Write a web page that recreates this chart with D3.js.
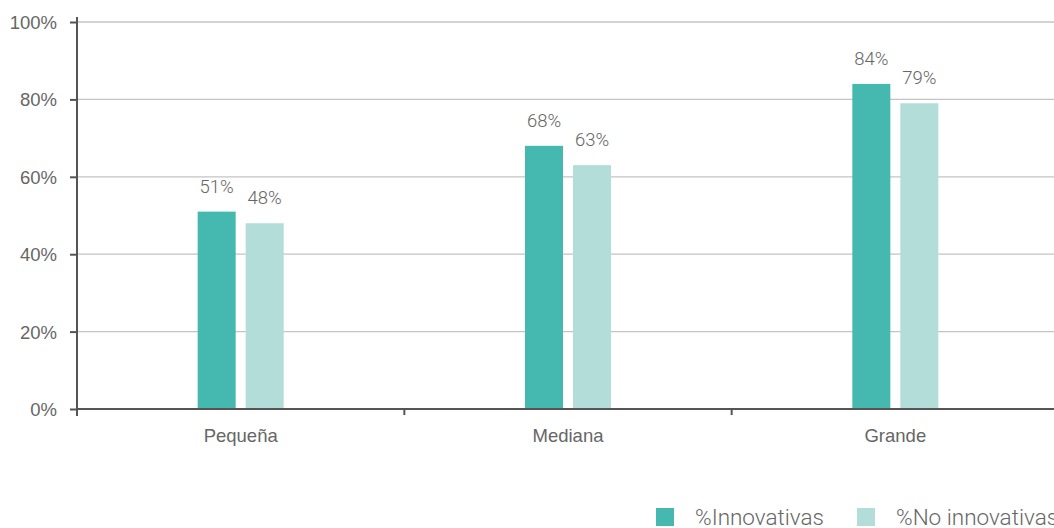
<!DOCTYPE html>
<html>
<head>
<meta charset="utf-8">
<script src="https://cdn.jsdelivr.net/npm/d3@7/dist/d3.min.js"></script>
<style>
  html, body { margin: 0; padding: 0; background: #fff; }
  svg { display: block; font-family: Roboto, "Noto Sans", sans-serif; font-weight: 300; }
  .axis path, .axis line { stroke: #555; stroke-width: 2; }
  .axis text { fill: #666; font-size: 18.5px; }
  .grid line { stroke: #c4c4c4; stroke-width: 1.3; }
</style>
</head>
<body>
<svg id="chart" width="1054" height="528"></svg>
<script>
// Company size groups and share of firms in each group
const categories = ["Pequeña", "Mediana", "Grande"];
const series = ["%Innovativas", "%No innovativas"];
const innovativas = [51, 68, 84];
const noInnovativas = [48, 63, 79];
const yTicks = [0, 20, 40, 60, 80, 100];
const colors = ["#45b8b0", "#b3ddd8"];

const rows = categories.map((c, i) => ({
  category: c,
  values: [innovativas[i], noInnovativas[i]]
}));

const svg = d3.select("#chart");
const plotLeft = 77, plotRight = 1059, plotTop = 22, plotBottom = 409;

const x = d3.scaleBand().domain(categories).range([plotLeft, plotRight]).padding(0);
const x1 = d3.scaleBand().domain(series).range([-43, 43]).paddingInner(10 / 48).paddingOuter(0);
const y = d3.scaleLinear().domain([0, 100]).range([plotBottom, plotTop]);

// Horizontal gridlines
svg.append("g").attr("class", "grid")
  .selectAll("line").data(yTicks.filter(d => d > 0)).join("line")
  .attr("x1", plotLeft).attr("x2", 1054)
  .attr("y1", d => y(d)).attr("y2", d => y(d));

// Bars
const groups = svg.append("g").selectAll("g").data(rows).join("g")
  .attr("transform", d => `translate(${x(d.category) + x.bandwidth() / 2},0)`);

groups.selectAll("rect").data(d => d.values.map((v, i) => ({ s: series[i], v, i }))).join("rect")
  .attr("x", d => x1(d.s))
  .attr("width", x1.bandwidth())
  .attr("y", d => y(d.v))
  .attr("height", d => y(0) - y(d.v))
  .attr("fill", d => colors[d.i]);

groups.selectAll("text").data(d => d.values.map((v, i) => ({ s: series[i], v, i }))).join("text")
  .attr("x", d => x1(d.s) + x1.bandwidth() / 2)
  .attr("y", d => y(d.v) - 19)
  .attr("text-anchor", "middle")
  .attr("fill", "#666")
  .style("font-size", "18.5px")
  .text(d => d.v + "%");

// Y axis
const yAxis = svg.append("g").attr("class", "axis")
  .attr("transform", `translate(${plotLeft},0)`)
  .call(d3.axisLeft(y).tickValues(yTicks).tickFormat(d => d + "%").tickSize(7).tickSizeOuter(0).tickPadding(13));
yAxis.select(".domain").attr("d", `M0,${plotTop - 5}V${plotBottom + 7}`);
yAxis.selectAll(".tick text").attr("dy", "0.35em");

// X axis: labels centred on each band, ticks at band boundaries
const xAxis = svg.append("g").attr("class", "axis")
  .attr("transform", `translate(0,${plotBottom})`)
  .call(d3.axisBottom(x).tickSize(0).tickPadding(20));
xAxis.select(".domain").attr("d", `M${plotLeft},0H1054`);
xAxis.selectAll(".bound").data(categories.map(c => x(c) + x.bandwidth()).concat([plotLeft])).join("line")
  .attr("class", "bound")
  .attr("x1", d => d).attr("x2", d => d)
  .attr("y1", 0).attr("y2", 6);

// Legend
const legend = svg.append("g").selectAll("g").data(series).join("g")
  .attr("transform", (d, i) => `translate(${[656, 857][i]},508)`);
legend.append("rect").attr("width", 18).attr("height", 18).attr("fill", (d, i) => colors[i]);
legend.append("text").attr("x", 39).attr("y", 17)
  .attr("fill", "#666").style("font-size", "22.5px").text(d => d);
</script>
</body>
</html>
